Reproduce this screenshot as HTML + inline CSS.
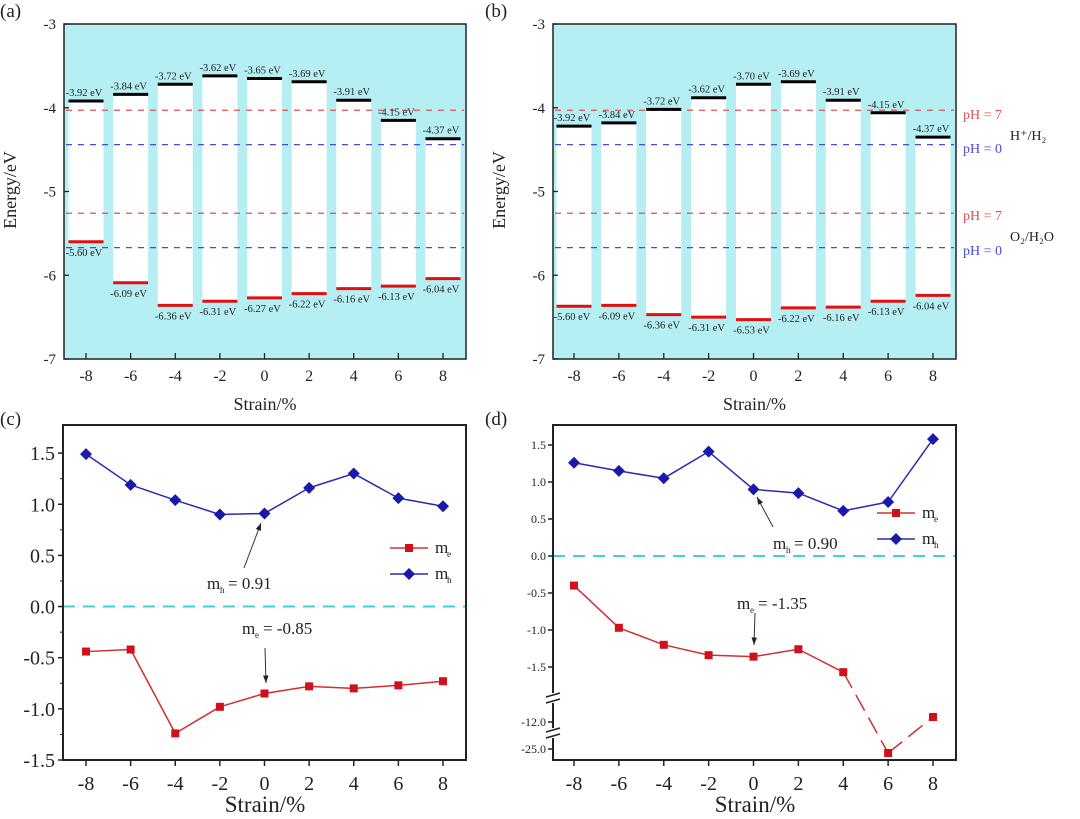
<!DOCTYPE html>
<html><head><meta charset="utf-8"><style>
html,body{margin:0;padding:0;background:#fff;}
svg{display:block;font-family:"Liberation Serif",serif;}
</style></head><body>
<svg id="fig" width="1080" height="819" viewBox="0 0 1080 819" xmlns="http://www.w3.org/2000/svg"></svg>
<script>
const strains = [-8,-6,-4,-2,0,2,4,6,8];
const cbmA = [-3.92,-3.84,-3.72,-3.62,-3.65,-3.69,-3.91,-4.15,-4.37];
const vbmA = [-5.60,-6.09,-6.36,-6.31,-6.27,-6.22,-6.16,-6.13,-6.04];
const cbmB = [-4.22,-4.18,-4.02,-3.88,-3.72,-3.69,-3.91,-4.06,-4.35];
const vbmB = [-6.37,-6.36,-6.47,-6.50,-6.53,-6.39,-6.38,-6.31,-6.24];
const cbmLabelsB = ["-3.92","-3.84","-3.72","-3.62","-3.70","-3.69","-3.91","-4.15","-4.37"];
const vbmLabelsB = ["-5.60","-6.09","-6.36","-6.31","-6.53","-6.22","-6.16","-6.13","-6.04"];
const redoxLevels = [-4.03,-4.44,-5.26,-5.67];
const mhC = [1.49,1.19,1.04,0.90,0.91,1.16,1.30,1.06,0.98];
const meC = [-0.44,-0.42,-1.24,-0.98,-0.85,-0.78,-0.80,-0.77,-0.73];
const mhD = [1.26,1.15,1.05,1.41,0.90,0.85,0.61,0.73,1.58];
const meD = [-0.40,-0.97,-1.20,-1.34,-1.36,-1.26,-1.57,-25.6,-11.6];
const energyTicks = [-3,-4,-5,-6,-7];
const cTicks = [1.5,1.0,0.5,0.0,-0.5,-1.0,-1.5];
const dTicks = [1.5,1.0,0.5,0.0,-0.5,-1.0,-1.5,-12.0,-25.0];

const svg = document.getElementById('fig');
const NS = 'http://www.w3.org/2000/svg';
function el(tag, attrs, parent, text){
  const e = document.createElementNS(NS, tag);
  for (const k in attrs) e.setAttribute(k, attrs[k]);
  if (text !== undefined) e.textContent = text;
  (parent||svg).appendChild(e);
  return e;
}
function label(x,y,txt,size,anchor,fill,name){
  const t = el('text',{x:x,y:y,'font-size':size,'text-anchor':anchor||'middle',fill:fill||'#111'},svg,txt);
  
  
  return t;
}

function energyPanel(px0, px1, xs8, xe8, cbm, vbm, cl, vl, tag){
  const y0=24, y1=359;
  const Y = v => y0 + (-3 - v) * (y1-y0)/4;
  const X = s => xs8 + (s+8) * (xe8-xs8)/16;
  const g = el('g',{});
  
  
  el('rect',{x:px0,y:y0,width:px1-px0,height:y1-y0,fill:'#b6eff3'},g);
  const bw = 35;
  strains.forEach((s,i)=>{
    const x = X(s);
    const col = el('rect',{x:x-bw/2,y:Y(cbm[i]),width:bw,height:Y(vbm[i])-Y(cbm[i]),fill:'#fff'},g);
    
    
  });
  redoxLevels.forEach((v,i)=>{
    const l = el('line',{x1:px0+2,x2:px1-2,y1:Y(v),y2:Y(v),stroke:i%2===0?'#e05050':'#4a4ad8','stroke-width':1.3,'stroke-dasharray':'6,6'},g);
    
    
  });
  strains.forEach((s,i)=>{
    const x = X(s);
    const c = el('line',{x1:x-bw/2,x2:x+bw/2,y1:Y(cbm[i]),y2:Y(cbm[i]),stroke:'#000','stroke-width':3},g);
    
    
    const v = el('line',{x1:x-bw/2,x2:x+bw/2,y1:Y(vbm[i]),y2:Y(vbm[i]),stroke:'#e01010','stroke-width':3},g);
    
    
    label(x-2, Y(cbm[i])-5, cl[i]+' eV', 10.5, 'middle', '#222', 'cbm-value-label');
    label(x-2, Y(vbm[i])+14, vl[i]+' eV', 10.5, 'middle', '#222', 'vbm-value-label');
  });
  el('rect',{x:px0,y:y0,width:px1-px0,height:y1-y0,fill:'none',stroke:'#222','stroke-width':1.5},g);
  energyTicks.forEach(v=>{
    el('line',{x1:px0,x2:px0+5,y1:Y(v),y2:Y(v),stroke:'#222','stroke-width':1.3},g);
    label(px0-8, Y(v)+5, String(v), 15, 'end', '#222', 'y-tick-label');
  });
  strains.forEach(s=>{
    el('line',{x1:X(s),x2:X(s),y1:y1,y2:y1-6,stroke:'#222','stroke-width':1.3},g);
    label(X(s), y1+22, String(s), 16, 'middle', '#222', 'x-tick-label');
  });
  label((px0+px1)/2, 410, 'Strain/%', 18, 'middle', '#222', 'x-axis-title');
  const yt = label(0,0,'Energy/eV',18,'middle','#222','y-axis-title');
  yt.setAttribute('transform','translate('+(px0-48)+',190) rotate(-90)');
}
energyPanel(64,466,86,443,cbmA,vbmA,cbmA.map(v=>v.toFixed(2)),vbmA.map(v=>v.toFixed(2)),'a');
energyPanel(553,956,574,933,cbmB,vbmB,cbmLabelsB,vbmLabelsB,'b');
label(0,17,'(a)',19,'start','#222','panel-label-a');
label(485,17,'(b)',19,'start','#222','panel-label-b');
label(963,119,'pH = 7',14,'start','#e05050','ph7-label');
label(963,153,'pH = 0',14,'start','#4a4ad8','ph0-label');
label(1010,140,'H⁺/H₂',14,'start','#222','h-redox-label');
label(963,220,'pH = 7',14,'start','#e05050','ph7-label');
label(963,255,'pH = 0',14,'start','#4a4ad8','ph0-label');
label(1010,241,'O₂/H₂O',14,'start','#222','o-redox-label');

function marker(g,x,y,kind){
  let m;
  if(kind==='sq') m = el('rect',{x:x-4,y:y-4,width:8,height:8,fill:'#d0101c'},g);
  else m = el('path',{d:`M${x} ${y-6}L${x+6} ${y}L${x} ${y+6}L${x-6} ${y}Z`,fill:'#1a1aa8'},g);
  
  
}
function series(g,X,Y,vals,color,kind,dashFrom){
  strains.forEach((s,i)=>{
    if(i===0) return;
    const a = {x1:X(strains[i-1]),y1:Y(vals[i-1]),x2:X(s),y2:Y(vals[i]),stroke:color,'stroke-width':1.5};
    if(dashFrom!==undefined && i>dashFrom) a['stroke-dasharray']='18,8';
    const l = el('line',a,g);
    
    
  });
  strains.forEach((s,i)=>marker(g,X(s),Y(vals[i]),kind));
}
function legend(g,x,y1,y2,fs){
  el('line',{x1:x,x2:x+38,y1:y1,y2:y1,stroke:'#d03030','stroke-width':1.5},g);
  marker(g,x+19,y1,'sq');
  el('line',{x1:x,x2:x+38,y1:y2,y2:y2,stroke:'#2a2ab0','stroke-width':1.5},g);
  marker(g,x+19,y2,'di');
  label(x+45,y1+5,'m',fs,'start','#222','legend-me');
  label(x+57,y1+9,'e',fs*0.55,'start','#222','legend-me-sub');
  label(x+45,y2+5,'m',fs,'start','#222','legend-mh');
  label(x+57,y2+9,'h',fs*0.55,'start','#222','legend-mh-sub');
}
function arrow(g,x1,y1,x2,y2){
  el('line',{x1:x1,y1:y1,x2:x2,y2:y2,stroke:'#333','stroke-width':1},g);
  const a=Math.atan2(y2-y1,x2-x1), L=8, w=0.35;
  el('path',{d:`M${x2} ${y2}L${x2-L*Math.cos(a-w)} ${y2-L*Math.sin(a-w)}L${x2-L*Math.cos(a+w)} ${y2-L*Math.sin(a+w)}Z`,fill:'#222'},g);
}

(function(){
  const px0=63,px1=466,y0=425,y1=760;
  const X = s => 86 + (s+8)*(443-86)/16;
  const Y = v => 760 - (v+1.5)*102.3;
  const g = el('g',{});
  
  
  el('line',{x1:px0,x2:px1,y1:Y(0),y2:Y(0),stroke:'#40d0d8','stroke-width':2,'stroke-dasharray':'12,8'},g);
  series(g,X,Y,mhC,'#2a2ab0','di');
  series(g,X,Y,meC,'#d03030','sq');
  el('rect',{x:px0,y:y0,width:px1-px0,height:y1-y0,fill:'none',stroke:'#222','stroke-width':2},g);
  cTicks.forEach(v=>{
    el('line',{x1:px0-5,x2:px0,y1:Y(v),y2:Y(v),stroke:'#222','stroke-width':1.5},g);
    if(v>-1.5) el('line',{x1:px0-3,x2:px0,y1:Y(v)+25.6,y2:Y(v)+25.6,stroke:'#222','stroke-width':1},g);
    label(px0-8,Y(v)+7,v.toFixed(1),20,'end','#222','y-tick-label');
  });
  strains.forEach(s=>{
    el('line',{x1:X(s),x2:X(s),y1:y1,y2:y1+6,stroke:'#222','stroke-width':1.5},g);
    label(X(s),y1+30,String(s),20,'middle','#222','x-tick-label');
  });
  label(265,812,'Strain/%',23,'middle','#222','x-axis-title');
  legend(g,390,548,574,17);
  label(207,589,'m',17,'start','#222','annotation-mh');
  label(220,593,'h',9,'start','#222','annotation-mh-sub');
  label(228,589,'= 0.91',17,'start','#222','annotation-mh-value');
  arrow(g,244,568,261,523);
  label(242,634,'m',17,'start','#222','annotation-me');
  label(255,638,'e',9,'start','#222','annotation-me-sub');
  label(263,634,'= -0.85',17,'start','#222','annotation-me-value');
  arrow(g,265,648,266,683);
})();
label(0,425,'(c)',19,'start','#222','panel-label-c');

(function(){
  const px0=553,px1=956,y0=425,y1=760;
  const X = s => 574 + (s+8)*(933-574)/16;
  const Y = v => v>=-2 ? 556 - v*74 : (v>-15 ? 722 + (-12-v)*12.5 : 749 + (-25-v)*6.7);
  const g = el('g',{});
  
  
  el('line',{x1:px0,x2:px1,y1:Y(0),y2:Y(0),stroke:'#40d0d8','stroke-width':2,'stroke-dasharray':'12,8'},g);
  series(g,X,Y,mhD,'#2a2ab0','di');
  series(g,X,Y,meD,'#d03030','sq',6);
  el('rect',{x:px0,y:y0,width:px1-px0,height:y1-y0,fill:'none',stroke:'#222','stroke-width':2},g);
  el('rect',{x:px0-6,y:693,width:12,height:10,fill:'#fff'},g);
  el('rect',{x:px0-6,y:728,width:12,height:10,fill:'#fff'},g);
  [695,701,730,736].forEach(y=>el('line',{x1:px0-7,x2:px0+7,y1:y+2,y2:y-2,stroke:'#222','stroke-width':1.5},g));
  dTicks.forEach(v=>{
    el('line',{x1:px0-5,x2:px0,y1:Y(v),y2:Y(v),stroke:'#222','stroke-width':1.5},g);
    label(px0-7,Y(v)+4,v.toFixed(1),12,'end','#222','y-tick-label');
  });
  strains.forEach(s=>{
    el('line',{x1:X(s),x2:X(s),y1:y1,y2:y1+6,stroke:'#222','stroke-width':1.5},g);
    label(X(s),y1+30,String(s),20,'middle','#222','x-tick-label');
  });
  label(755,812,'Strain/%',23,'middle','#222','x-axis-title');
  legend(g,877,513,539,17);
  label(773,549,'m',17,'start','#222','annotation-mh');
  label(786,553,'h',9,'start','#222','annotation-mh-sub');
  label(794,549,'= 0.90',17,'start','#222','annotation-mh-value');
  arrow(g,773,527,757,497);
  label(737,609,'m',17,'start','#222','annotation-me');
  label(750,613,'e',9,'start','#222','annotation-me-sub');
  label(758,609,'= -1.35',17,'start','#222','annotation-me-value');
  arrow(g,755,613,754,645);
})();
label(485,425,'(d)',19,'start','#222','panel-label-d');
</script>
</body></html>
